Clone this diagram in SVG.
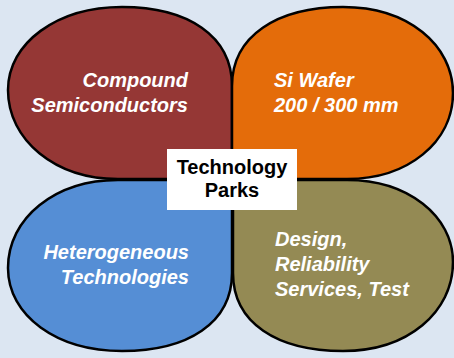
<svg xmlns="http://www.w3.org/2000/svg" width="454" height="358" viewBox="0 0 454 358">
<style>
.lobe{stroke:#000;stroke-width:2.5;stroke-linejoin:round}
.lbl{font-family:"Liberation Sans",Arial,sans-serif;font-weight:bold;font-style:italic;font-size:20px;fill:#fff}
.ctr{font-family:"Liberation Sans",Arial,sans-serif;font-weight:bold;font-size:20px;fill:#000;text-anchor:middle}
</style>
<rect x="0" y="0" width="454" height="358" fill="#DCE6F2"/>
<g id="compound">
<path class="lobe" fill="#953735" d="M232,179 L232,86 C232,36 188,7 122,7 C57,7 8,43 8,90 C8,140 55,179 118,179 Z"/>
<text class="lbl" text-anchor="end"><tspan x="188" y="87">Compound</tspan><tspan x="188" y="112">Semiconductors</tspan></text>
</g>
<g id="siwafer">
<path class="lobe" fill="#E46C0A" d="M232,179 L232,86 C232,36 277,7 343,7 C408,7 453,45 453,93 C453,142 408,179 347,179 Z"/>
<text class="lbl"><tspan x="274" y="87">Si Wafer</tspan><tspan x="274" y="112">200 / 300 mm</tspan></text>
</g>
<g id="hetero">
<path class="lobe" fill="#558ED5" d="M232,180 L232,273 C232,323 188,351 122,351 C57,351 8,316 8,268 C8,218 55,180 118,180 Z"/>
<text class="lbl" text-anchor="end"><tspan x="189" y="259">Heterogeneous</tspan><tspan x="189" y="284">Technologies</tspan></text>
</g>
<g id="design">
<path class="lobe" fill="#948A54" d="M233,180 L233,273 C233,323 277,351 343,351 C408,351 453,312 453,262 C453,216 408,180 347,180 Z"/>
<text class="lbl"><tspan x="275" y="246">Design,</tspan><tspan x="275" y="271">Reliability</tspan><tspan x="275" y="296">Services, Test</tspan></text>
</g>
<g id="center">
<rect x="167" y="149" width="130" height="61" fill="#fff"/>
<text class="ctr"><tspan x="232" y="174">Technology</tspan><tspan x="232" y="197">Parks</tspan></text>
</g>
</svg>
